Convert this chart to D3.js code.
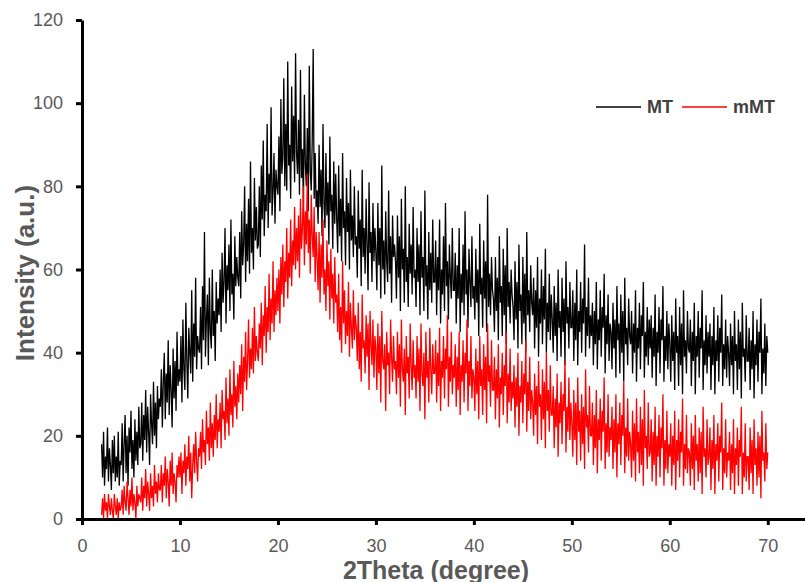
<!DOCTYPE html>
<html>
<head>
<meta charset="utf-8">
<script src="https://cdn.jsdelivr.net/npm/d3@7"></script>
<style>
body { margin: 0; background: #fff; }
svg { display: block; }
</style>
</head>
<body>
<div id="chart"></div>
<script>
// 2theta scan: first angle and step (degrees)
const thetaStart = 2.0;
const thetaStep = 0.1;

// MT intensity, one row = 2 degrees (2.0 ... 70.0)
const mtValues = [
18,10,21,8,15,12,22,9,17,13,7,19,11,20,9,15,10,21,8,14,
13,23,9,18,25,11,20,8,22,16,26,12,19,10,24,14,21,13,27,17,
18,28,14,25,19,31,16,27,21,13,30,23,18,33,20,28,17,32,24,29,
27,36,22,33,40,24,35,28,43,25,37,31,22,41,29,38,26,45,32,36,
33,44,28,48,36,31,52,38,29,46,40,35,55,33,47,39,58,36,44,41,
40,51,36,56,43,69,39,48,54,37,58,45,41,60,44,50,38,57,47,53,
49,60,45,64,52,57,70,47,61,55,66,50,72,54,59,48,68,56,63,58,
56,69,53,74,61,66,80,57,71,62,77,59,86,64,70,60,82,67,75,65,
66,80,63,85,72,91,68,78,74,95,70,83,76,99,73,79,88,71,84,80,
78,92,74,101,83,87,106,80,95,79,110,85,90,77,104,86,97,81,112,88,
83,96,78,108,82,89,76,102,85,80,94,74,109,84,79,91,113,77,88,75,
79,71,90,75,84,68,95,76,70,88,73,81,66,92,74,78,65,86,71,83,
72,64,85,68,77,62,88,70,74,61,82,69,76,60,84,67,73,63,80,66,
68,58,79,65,72,56,84,63,70,59,77,66,55,81,64,69,57,76,62,70,
64,55,76,61,70,53,85,60,67,54,74,62,57,79,59,68,52,73,63,66,
62,53,73,58,68,50,77,60,65,52,80,57,63,51,71,59,66,54,75,58,
60,51,70,57,66,49,74,58,63,50,79,56,61,48,69,55,64,52,72,57,
57,67,49,63,55,72,47,60,54,68,50,76,56,62,48,66,58,53,70,55,
55,64,47,61,53,70,45,59,52,66,49,74,54,60,46,65,57,51,68,53,
56,48,65,52,60,44,71,54,58,46,67,53,62,45,78,51,59,49,63,55,
53,45,63,50,58,43,68,52,56,44,65,49,61,42,70,51,57,47,60,54,
51,43,62,48,57,41,66,50,54,42,63,47,59,40,69,49,55,45,61,52,
49,58,41,55,46,63,39,53,47,60,42,56,48,65,40,52,45,59,43,54,
48,40,56,44,52,38,60,46,50,39,58,45,53,37,62,47,51,41,57,46,
46,55,38,52,43,60,37,50,45,57,40,53,47,66,39,51,44,58,41,49,
44,52,37,50,42,57,36,48,43,55,39,51,46,59,35,49,42,54,38,47,
45,36,52,41,48,34,56,43,47,35,54,40,50,33,58,42,46,37,53,44,
42,50,35,47,40,55,33,46,41,52,36,49,44,57,34,45,39,51,37,48,
41,49,34,46,39,54,32,45,40,51,35,48,43,56,33,44,38,50,36,47,
42,33,49,38,45,31,53,40,44,32,51,37,47,30,55,39,43,35,50,41,
40,48,32,45,38,52,30,44,39,50,34,46,41,55,31,43,37,49,35,45,
39,47,31,44,37,51,30,43,38,49,33,46,40,54,32,42,36,48,34,44,
40,32,47,37,44,30,50,38,42,31,48,36,45,29,52,39,41,33,49,38,
38,46,31,43,36,50,29,42,37,48,33,45,40,53,30,41,35,47,32,44,
40
];

// mMT intensity, one row = 2 degrees (2.0 ... 70.0)
const mmtValues = [
1,5,0,6,2,4,0,6,3,1,5,2,0,6,3,1,5,0,4,2,
3,7,1,8,4,2,9,5,1,7,3,10,2,6,4,0,8,3,6,5,
4,10,2,8,5,12,3,9,6,2,11,5,8,3,13,6,9,4,11,7,
7,13,4,11,8,15,5,12,9,3,14,8,16,6,11,9,4,13,10,15,
10,16,6,14,11,18,8,15,12,20,9,16,5,13,18,11,21,14,9,17,
15,21,12,24,16,19,13,26,18,22,14,28,17,23,15,25,19,30,17,24,
21,28,17,31,24,26,19,34,23,29,20,36,25,30,22,38,27,32,24,35,
28,37,30,42,26,39,33,45,31,38,48,34,41,36,46,35,51,38,44,40,
38,47,41,52,37,49,44,56,40,51,45,59,43,53,47,62,45,55,49,58,
50,60,47,63,54,66,51,62,57,70,53,64,58,72,56,67,61,75,60,70,
62,73,58,77,65,70,80,61,74,66,83,64,72,59,78,68,63,75,57,69,
63,55,69,52,66,58,72,54,60,50,67,56,62,48,65,53,59,47,63,52,
54,45,59,43,51,40,62,47,55,42,50,44,57,39,52,46,41,55,43,49,
46,38,52,36,45,33,54,41,43,35,49,39,47,31,50,42,37,48,34,44,
41,31,47,35,44,28,50,38,36,42,26,45,37,40,30,48,39,33,44,36,
38,30,45,34,42,27,48,36,33,41,25,44,35,39,29,47,37,31,43,34,
37,29,44,33,41,26,47,35,32,40,24,45,34,38,28,46,36,30,42,35,
35,43,28,40,32,46,26,38,34,44,29,41,36,49,27,39,33,45,30,37,
34,42,27,39,31,45,25,37,33,43,28,40,35,48,26,38,32,44,29,36,
34,26,41,30,38,24,44,32,36,25,42,31,39,23,47,33,37,27,43,31,
31,39,24,36,29,42,22,34,30,40,25,37,32,45,23,35,28,41,26,33,
29,37,22,34,27,40,20,32,28,38,23,35,30,43,21,33,26,39,24,31,
28,20,35,25,32,18,38,27,30,19,36,24,33,17,40,26,31,21,37,25,
25,32,17,29,22,35,15,28,23,33,18,30,26,38,16,27,21,34,19,28,
23,15,31,19,28,13,34,21,26,14,30,18,27,12,36,22,25,16,32,20,
20,28,13,25,17,31,11,24,19,29,14,26,21,34,12,23,16,30,15,22,
19,27,12,24,16,30,10,23,18,28,13,25,20,33,11,22,15,29,14,21,
18,10,26,14,23,9,29,16,21,11,27,13,24,8,31,17,20,12,28,15,
16,24,9,21,13,27,8,20,15,25,10,22,17,30,8,19,12,26,11,18,
15,23,8,20,13,26,7,19,14,24,10,21,16,29,8,18,12,25,11,17,
16,8,23,12,20,7,25,14,18,9,22,11,21,6,27,15,17,10,24,13,
15,22,7,19,12,25,6,18,14,23,9,20,16,28,7,17,11,24,10,16,
14,21,7,18,11,24,6,17,13,22,8,19,15,27,6,16,10,23,9,15,
15,7,22,11,19,6,24,13,17,8,21,10,20,5,26,14,16,9,23,12,
16
];

const xTicks = [0, 10, 20, 30, 40, 50, 60, 70];
const yTicks = [0, 20, 40, 60, 80, 100, 120];
const seriesNames = ["MT", "mMT"];
const seriesColors = ["#000000", "#ff0000"];

const W = 805, H = 582;
const svg = d3.select("#chart").append("svg").attr("width", W).attr("height", H);

var x = d3.scaleLinear().domain([0, 73.8]).range([82, 805]);
var y = d3.scaleLinear().domain([0, 120]).range([519, 20]);

svg.append("defs").append("clipPath").attr("id", "plotclip")
    .append("rect").attr("x", 82).attr("y", 0).attr("width", W - 82).attr("height", 519);

var line = d3.line()
    .x((d, i) => x(thetaStart + i * thetaStep))
    .y(d => y(d));

var plot = svg.append("g").attr("clip-path", "url(#plotclip)");
[mtValues, mmtValues].forEach((vals, k) => {
    plot.append("path")
        .attr("d", line(vals))
        .attr("fill", "none")
        .attr("stroke", seriesColors[k])
        .attr("stroke-width", 1.3);
});

// axes
var font = "'Liberation Sans', Arial, sans-serif";

var yAxis = svg.append("g")
    .attr("transform", "translate(82,0)")
    .call(d3.axisLeft(y).tickValues(yTicks).tickSize(6).tickSizeOuter(0).tickPadding(13));

var xAxis = svg.append("g")
    .attr("transform", "translate(0,519)")
    .call(d3.axisBottom(x).tickValues(xTicks).tickSize(6).tickSizeOuter(0).tickPadding(14));

[yAxis, xAxis].forEach(ax => {
    ax.select(".domain").attr("stroke", "#000").attr("stroke-width", 3);
    ax.selectAll(".tick line").attr("stroke", "#000").attr("stroke-width", 3);
    ax.selectAll(".tick text")
        .attr("fill", "#595959")
        .style("font-family", font)
        .style("font-size", "18px");
});

// axis titles
svg.append("text")
    .attr("transform", "translate(34,273) rotate(-90)")
    .attr("text-anchor", "middle")
    .attr("fill", "#595959")
    .style("font-family", font)
    .style("font-weight", "bold")
    .style("font-size", "26px")
    .text("Intensity (a.u.)");

svg.append("text")
    .attr("x", 436)
    .attr("y", 579)
    .attr("text-anchor", "middle")
    .attr("fill", "#595959")
    .style("font-family", font)
    .style("font-weight", "bold")
    .style("font-size", "25px")
    .text("2Theta (degree)");

// legend
var legendX = [596, 682];
seriesNames.forEach((name, i) => {
    var g = svg.append("g").attr("transform", `translate(${legendX[i]},107)`);
    g.append("line")
        .attr("x1", 0).attr("x2", 45).attr("y1", 0).attr("y2", 0)
        .attr("stroke", seriesColors[i]).attr("stroke-width", 1.5);
    g.append("text")
        .attr("x", 51).attr("y", 6)
        .attr("fill", "#404040")
        .style("font-family", font)
        .style("font-weight", "bold")
        .style("font-size", "18px")
        .text(name);
});
</script>
</body>
</html>
